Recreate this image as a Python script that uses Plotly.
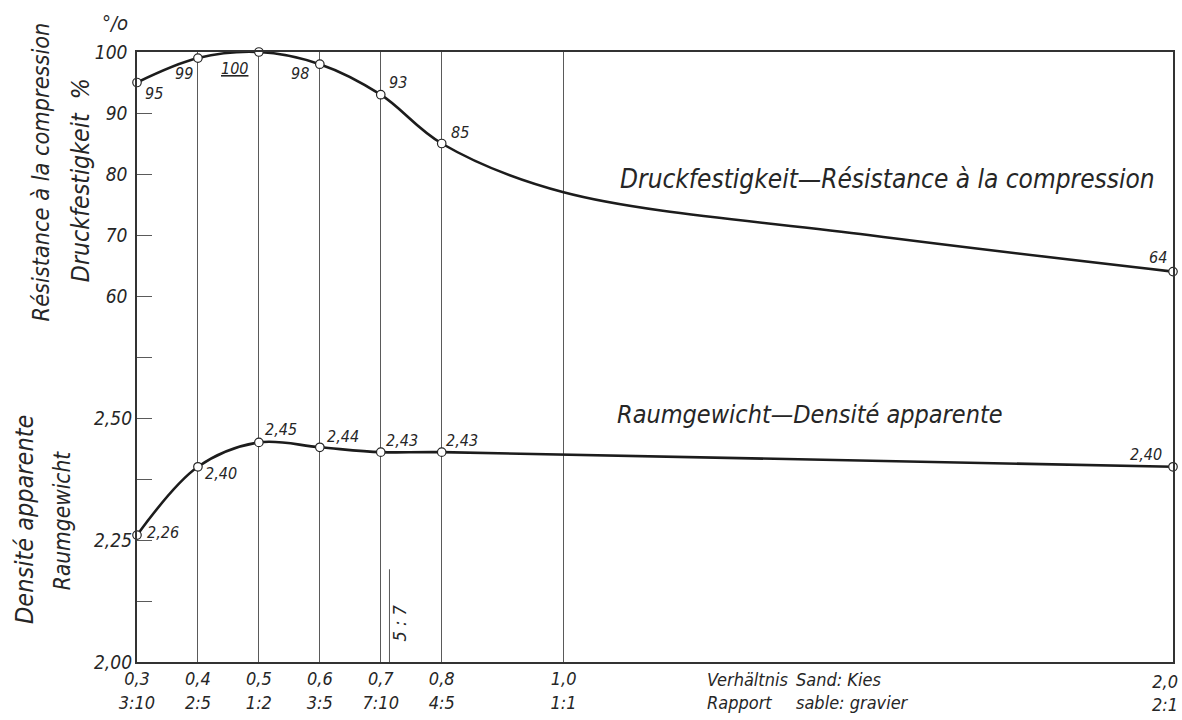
import plotly.graph_objects as go

# Sand : gravel ratio and measured values (marked points)
ratio = [0.3, 0.4, 0.5, 0.6, 0.7, 0.8, 2.0]
strength_pct = [95, 99, 100, 98, 93, 85, 64]
density = [2.26, 2.40, 2.45, 2.44, 2.43, 2.43, 2.40]

# course of the drawn strength curve, including its run between 0.8 and 2.0
strength_curve_x = [0.3, 0.4, 0.5, 0.6, 0.7, 0.8, 1.0, 1.5, 2.0]
strength_curve_y = [95, 99, 100, 98, 93, 85, 77, 70, 64]

x_ticks = [0.3, 0.4, 0.5, 0.6, 0.7, 0.8, 1.0, 2.0]
x_dec = ["0,3", "0,4", "0,5", "0,6", "0,7", "0,8", "1,0", "2,0"]
x_frac = ["3:10", "2:5", "1:2", "3:5", "7:10", "4:5", "1:1", "2:1"]

pct_ticks = [60, 70, 80, 90, 100]
dens_ticks = [2.00, 2.125, 2.25, 2.375, 2.50, 2.625]
dens_ticktext = ["2,00", "", "2,25", "", "2,50", ""]

ratio_57 = 5 / 7

FONT = "Liberation Sans Narrow, DejaVu Sans Condensed, Roboto Condensed, Arial Narrow, sans-serif"
INK = "#262626"
GRID = "#5a5a5a"


def fnt(size, color=INK):
    return dict(family=FONT, size=size, color=color, style="italic")


fig = go.Figure()

marker = dict(symbol="circle", size=8.5, color="white", line=dict(color=INK, width=1.2))
curve = dict(color="#1c1c1c", width=2.6, shape="spline", smoothing=1.0)

fig.add_trace(go.Scatter(
    x=strength_curve_x, y=strength_curve_y, mode="lines", yaxis="y",
    line=curve, cliponaxis=False, showlegend=False, hoverinfo="skip",
))
fig.add_trace(go.Scatter(
    x=ratio, y=strength_pct, mode="markers", yaxis="y",
    marker=marker, cliponaxis=False, showlegend=False, hoverinfo="skip",
))
fig.add_trace(go.Scatter(
    x=ratio, y=density, mode="lines+markers", yaxis="y2",
    line=curve, marker=marker, cliponaxis=False, showlegend=False, hoverinfo="skip",
))

# value labels next to each point (pixel offsets)
pct_offsets = [(17, -11), (-14, -15), (-24, -16), (-20, -9), (17, 12), (18, 11), (-15, 14)]
dens_offsets = [(26, 3), (23, -7), (22, 13), (23, 11), (21, 12), (20, 12), (-27, 12)]

annotations = []
for xv, yv, (dx, dy) in zip(ratio, strength_pct, pct_offsets):
    txt = f"{yv:g}"
    if yv == max(strength_pct):
        txt = f"<u>{txt}</u>"
    annotations.append(dict(x=xv, y=yv, xref="x", yref="y", text=txt, showarrow=False,
                            xshift=dx, yshift=dy, font=fnt(16)))
for xv, yv, (dx, dy) in zip(ratio, density, dens_offsets):
    annotations.append(dict(x=xv, y=yv, xref="x", yref="y2", text=f"{yv:.2f}".replace(".", ","),
                            showarrow=False, xshift=dx, yshift=dy, font=fnt(16)))

# curve names sitting on the grid lines
annotations.append(dict(x=1.531, y=80, xref="x", yref="y",
                        text="Druckfestigkeit—Résistance à la compression",
                        showarrow=False, yshift=-5, bgcolor="white", borderpad=0, font=fnt(26)))
annotations.append(dict(x=1.405, y=2.50, xref="x", yref="y2",
                        text="Raumgewicht—Densité apparente",
                        showarrow=False, yshift=4, bgcolor="white", borderpad=0, font=fnt(25)))


def side_label(x, y, text, size, angle=-90, yshift=0):
    return dict(x=x, y=y, xref="paper", yref="paper", xanchor="center", yanchor="middle",
                text=text, textangle=angle, showarrow=False, yshift=yshift, font=fnt(size))


# axis titles
annotations += [
    side_label(-0.0934, 0.803, "Résistance à la compression", 23.3),
    side_label(-0.0549, 0.790, "Druckfestigkeit  %", 24.7),
    side_label(-0.021, 1.045, "°/o", 20, angle=0, yshift=2),
    side_label(-0.108, 0.233, "Densité apparente", 25),
    side_label(-0.0723, 0.231, "Raumgewicht", 22.5),
]

# x-axis caption
annotations += [
    dict(x=0.548, y=-0.048, xref="paper", yref="paper", xanchor="left", yanchor="middle",
         text="Verhältnis<br>Rapport", align="left", showarrow=False, font=fnt(18)),
    dict(x=0.634, y=-0.048, xref="paper", yref="paper", xanchor="left", yanchor="middle",
         text="Sand: Kies<br>sable: gravier", align="left", showarrow=False, font=fnt(18)),
]

# last x label sits flush with the right frame
annotations.append(dict(x=x_ticks[-1], y=0, xref="x", yref="paper", xanchor="right", yanchor="top",
                        xshift=7, yshift=-7, text=f"{x_dec[-1]}<br>{x_frac[-1]}", align="right",
                        showarrow=False, font=fnt(18)))

# 5:7 marker
annotations.append(dict(x=ratio_57, y=2.08, xref="x", yref="y2", text="5 : 7", textangle=-90,
                        showarrow=False, xshift=10, font=fnt(18)))

shapes = [dict(type="line", xref="x", yref="y2", x0=ratio_57, x1=ratio_57, y0=2.0, y1=2.19,
               line=dict(color=GRID, width=1))]

x_ticktext = [f"{a}<br>{b}" for a, b in zip(x_dec, x_frac)]
x_ticktext[-1] = ""

fig.update_layout(
    width=1182, height=720,
    margin=dict(l=137, r=7, t=52, b=58),
    paper_bgcolor="white", plot_bgcolor="white",
    font=fnt(17),
    xaxis=dict(range=[0.3, 2.0], tickvals=x_ticks, ticktext=x_ticktext, showgrid=True,
               gridcolor=GRID, gridwidth=1, showline=True, mirror=True, linecolor="#333",
               linewidth=1.6, ticks="", zeroline=False, tickfont=fnt(18)),
    yaxis=dict(range=[0, 100], tickvals=pct_ticks, ticktext=[str(v) for v in pct_ticks],
               showgrid=False, zeroline=False, showline=True, mirror=True, linecolor="#333",
               linewidth=1.6, ticks="inside", ticklen=15, tickcolor=GRID, tickwidth=1,
               tickfont=fnt(19), ticklabelstandoff=4),
    yaxis2=dict(range=[2.0, 3.25], overlaying="y", side="left", tickvals=dens_ticks,
                ticktext=dens_ticktext, showgrid=False, zeroline=False, showline=False,
                ticks="inside", ticklen=15, tickcolor=GRID, tickwidth=1, tickfont=fnt(19),
                ticklabelstandoff=4),
    yaxis3=dict(range=[0, 100], overlaying="y", side="left", tickvals=[60, 80],
                showgrid=True, gridcolor=GRID, gridwidth=1, showticklabels=False,
                zeroline=False, showline=False, ticks=""),
    yaxis4=dict(range=[2.0, 3.25], overlaying="y", side="left", tickvals=[2.25, 2.50],
                showgrid=True, gridcolor=GRID, gridwidth=1, showticklabels=False,
                zeroline=False, showline=False, ticks=""),
    annotations=annotations,
    shapes=shapes,
)

fig.write_html("out.html")
